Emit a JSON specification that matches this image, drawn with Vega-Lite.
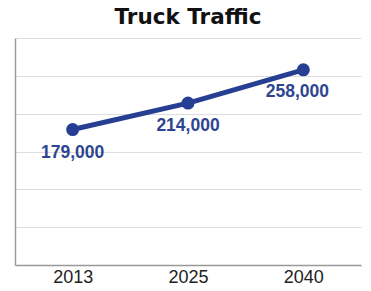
{
  "$schema": "https://vega.github.io/schema/vega-lite/v6.json",
  "width": 346,
  "height": 227,
  "autosize": {"type": "none"},
  "padding": {"left": 15, "top": 38, "right": 10, "bottom": 26},
  "background": "white",
  "title": {
    "text": "Truck Traffic",
    "font": "DejaVu Sans",
    "fontSize": 21.5,
    "fontWeight": "bold",
    "color": "#111111",
    "anchor": "middle",
    "offset": 10
  },
  "config": {
    "view": {"stroke": null}
  },
  "data": {
    "values": [
      {"year": "2013", "trucks": 179000, "label": "179,000"},
      {"year": "2025", "trucks": 214000, "label": "214,000"},
      {"year": "2040", "trucks": 258000, "label": "258,000"}
    ]
  },
  "encoding": {
    "x": {
      "field": "year",
      "type": "ordinal",
      "scale": {"type": "point", "padding": 0.5},
      "axis": {
        "title": null,
        "labelAngle": 0,
        "labelFont": "Liberation Sans",
        "labelFontSize": 18,
        "labelColor": "#222222",
        "labelPadding": 3,
        "ticks": false,
        "domainColor": "#999999",
        "domainWidth": 1.5,
        "grid": false
      }
    },
    "y": {
      "field": "trucks",
      "type": "quantitative",
      "scale": {"domain": [0, 300000], "nice": false},
      "axis": {
        "title": null,
        "labels": false,
        "ticks": false,
        "values": [0, 50000, 100000, 150000, 200000, 250000, 300000],
        "grid": true,
        "gridColor": "#dddddd",
        "gridWidth": 1,
        "domainColor": "#999999",
        "domainWidth": 1.5
      }
    }
  },
  "layer": [
    {
      "mark": {"type": "line", "color": "#263f93", "strokeWidth": 5}
    },
    {
      "mark": {"type": "point", "filled": true, "color": "#263f93", "opacity": 1, "size": 170}
    },
    {
      "transform": [{"filter": "datum.year != '2040'"}],
      "mark": {"type": "text", "font": "Liberation Sans", "fontSize": 17.5, "fontWeight": "bold", "color": "#2d4590", "baseline": "middle", "dy": 23},
      "encoding": {"text": {"field": "label"}}
    },
    {
      "transform": [{"filter": "datum.year == '2040'"}],
      "mark": {"type": "text", "font": "Liberation Sans", "fontSize": 17.5, "fontWeight": "bold", "color": "#2d4590", "baseline": "middle", "dy": 22, "dx": -6},
      "encoding": {"text": {"field": "label"}}
    }
  ]
}
